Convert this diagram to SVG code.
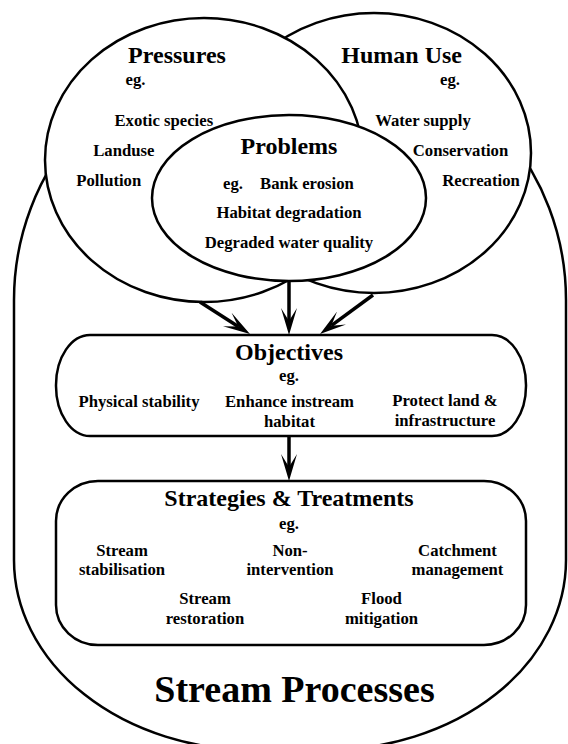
<svg xmlns="http://www.w3.org/2000/svg" width="568" height="744" viewBox="0 0 568 744">
<defs>
<style>
.shape{fill:#fff;stroke:#000;stroke-width:2.5}
text{font-family:"Liberation Serif","Times New Roman",serif;font-weight:bold;fill:#000;text-anchor:middle}
.t{font-size:24px}
.b{font-size:16.7px}
.big{font-size:38px}
.arrow{fill:none;stroke:#000;stroke-width:3.5}
</style>
<marker id="ah" viewBox="0 0 27 16" refX="13" refY="8" markerWidth="27" markerHeight="16" markerUnits="userSpaceOnUse" orient="auto">
<path d="M0,0 L27,8 L0,16 L13,8 Z" fill="#000"/>
</marker>
</defs>
<rect width="568" height="744" fill="#fff"/>
<g id="stream-processes">
<path class="shape" d="M14,300 A240 250 0 0 1 254,50 L326,50 A240 250 0 0 1 566,300 L566,560 A240 190 0 0 1 326,750 L254,750 A240 190 0 0 1 14,560 Z"/>
<text class="big" x="294.5" y="702">Stream Processes</text>
</g>
<g id="human-use">
<ellipse class="shape" cx="374" cy="153" rx="157" ry="140"/>
<text class="t" x="401.7" y="63">Human Use</text>
<text class="b" x="450" y="85">eg.</text>
<text class="b" x="423" y="126">Water supply</text>
<text class="b" x="460.5" y="156">Conservation</text>
<text class="b" x="481" y="186">Recreation</text>
</g>
<g id="pressures">
<ellipse class="shape" cx="204" cy="160" rx="159" ry="142"/>
<text class="t" x="177" y="63">Pressures</text>
<text class="b" x="135.5" y="85">eg.</text>
<text class="b" x="163.8" y="126">Exotic species</text>
<text class="b" x="123.8" y="156">Landuse</text>
<text class="b" x="108.8" y="186">Pollution</text>
</g>
<g id="problems">
<ellipse class="shape" cx="289" cy="198" rx="137" ry="83"/>
<text class="t" x="289" y="154">Problems</text>
<text class="b" y="189" style="text-anchor:start"><tspan x="223">eg.</tspan><tspan x="260">Bank erosion</tspan></text>
<text class="b" x="289" y="218">Habitat degradation</text>
<text class="b" x="289" y="248">Degraded water quality</text>
</g>
<g id="objectives">
<rect class="shape" x="56" y="335" width="470" height="101" rx="34" ry="50"/>
<text class="t" x="289" y="360">Objectives</text>
<text class="b" x="289" y="381">eg.</text>
<text class="b" x="139" y="407">Physical stability</text>
<text class="b" x="289.5" y="407">Enhance instream</text>
<text class="b" x="289.5" y="427">habitat</text>
<text class="b" x="445" y="406">Protect land &amp;</text>
<text class="b" x="445" y="426">infrastructure</text>
</g>
<g id="strategies">
<rect class="shape" x="56" y="481" width="470" height="164" rx="42" ry="40"/>
<text class="t" x="289" y="506">Strategies &amp; Treatments</text>
<text class="b" x="289" y="529">eg.</text>
<text class="b" x="122" y="556">Stream</text>
<text class="b" x="122" y="575">stabilisation</text>
<text class="b" x="290" y="556">Non-</text>
<text class="b" x="290" y="575">intervention</text>
<text class="b" x="457.5" y="556">Catchment</text>
<text class="b" x="457.5" y="575">management</text>
<text class="b" x="205" y="604">Stream</text>
<text class="b" x="205" y="624">restoration</text>
<text class="b" x="381.5" y="604">Flood</text>
<text class="b" x="381.5" y="624">mitigation</text>
</g>
<g id="connectors">
<line class="arrow" x1="200" y1="302" x2="238.2" y2="326.5" marker-end="url(#ah)"/>
<line class="arrow" x1="289" y1="281" x2="289" y2="321" marker-end="url(#ah)"/>
<line class="arrow" x1="373" y1="295" x2="331.3" y2="325.7" marker-end="url(#ah)"/>
<line class="arrow" x1="289" y1="437" x2="289" y2="467" marker-end="url(#ah)"/>
</g>
</svg>
